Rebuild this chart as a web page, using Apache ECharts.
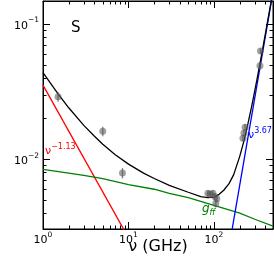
<!DOCTYPE html>
<html><head><meta charset="utf-8">
<script src="https://cdn.jsdelivr.net/npm/echarts@6/dist/echarts.min.js"></script>
<style>html,body{margin:0;padding:0;background:#fff}#c{width:274px;height:259px}</style>
</head><body><div id="c"></div>
<script>
// Observed flux densities (Jy) with 1-sigma errors
const freqObs = [1.5, 5, 8.5, 85, 90, 97, 102, 105, 108, 218, 224, 231, 345, 350];
const fluxObs = [0.029, 0.0161, 0.0079, 0.0056, 0.0055, 0.0056, 0.0053, 0.0047, 0.0051, 0.0143, 0.0156, 0.0172, 0.049, 0.063];
const fluxErr = [0.0024, 0.0013, 0.0007, 0.0003, 0.0003, 0.0003, 0.0003, 0.0003, 0.0003, 0.0008, 0.0009, 0.001, 0.003, 0.003];

// Total model
const modelFreq = [1, 1.5, 2, 3, 4, 5, 7, 10, 15, 20, 30, 50, 70, 85, 100, 115, 130, 150, 170, 200, 225, 250, 275, 300, 325, 350, 375, 400, 425, 450, 490];
const modelFlux = [0.0437, 0.0304, 0.0240, 0.0178, 0.0148, 0.0129, 0.0108, 0.0092, 0.0079, 0.0072, 0.0064, 0.0057, 0.0053, 0.0052, 0.00525, 0.0055, 0.0059, 0.0066, 0.0077, 0.0105, 0.0138, 0.0184, 0.0244, 0.0321, 0.0417, 0.0535, 0.068, 0.0852, 0.1056, 0.129, 0.175];

// Synchrotron component (nu^-1.13)
const syncFreq = [1, 10];
const syncFlux = [0.0353, 0.00262];

// Dust component (nu^3.67)
const dustFreq = [150, 490];
const dustFlux = [0.00224, 0.172];

// Free-free component
const ffFreq = [1, 2, 3, 5, 10, 20, 30, 50, 100, 200, 300, 490];
const ffFlux = [0.0084, 0.0079, 0.0076, 0.0072, 0.0065, 0.0060, 0.0056, 0.0052, 0.00456, 0.0040, 0.0036, 0.0032];

// Axis ranges and ticks
const xMin = 1, xMax = 490;
const yMin = 0.00305, yMax = 0.1477;
const xMajor = [1, 10, 100];
const yMajor = [0.01, 0.1];
const xMinor = [2,3,4,5,6,7,8,9,20,30,40,50,60,70,80,90,200,300,400];
const yMinor = [0.004,0.005,0.006,0.007,0.008,0.009,0.02,0.03,0.04,0.05,0.06,0.07,0.08,0.09];

(function () {
const FONT = 'DejaVu Sans';
const zip = (a, b) => a.map((v, i) => [v, b[i]]);

function powLabel(v) {
  const l = Math.log10(v);
  const r = Math.round(l);
  if (Math.abs(l - r) > 1e-6) return '';
  const e = r < 0 ? '\u2212' + (-r) : '' + r;
  return '{b|10}{s|' + e + '}';
}
const richLab = {
  b: {fontFamily: FONT, fontSize: 11, color: '#000', lineHeight: 15, verticalAlign: 'bottom'},
  s: {fontFamily: FONT, fontSize: 7.5, color: '#000', lineHeight: 15, verticalAlign: 'top'}
};

// tick items: [x, y, side(0 bottom,1 top,2 left,3 right), length]
const tickData = [];
xMinor.forEach(v => { tickData.push([v, yMin, 0, 3.5]); tickData.push([v, yMax, 1, 3.5]); });
yMinor.forEach(v => { tickData.push([xMin, v, 2, 3.5]); tickData.push([xMax, v, 3, 3.5]); });

const tickStyle = {show: true, inside: true, length: 7, lineStyle: {color: '#000', width: 1}};
const chart = echarts.init(document.getElementById('c'), null, {renderer: 'canvas'});
const option = {
  animation: false,
  backgroundColor: '#fff',
  grid: {left: 43, right: 1, top: 1, bottom: 30, outerBoundsMode: 'none', containLabel: false,
         show: true, borderColor: '#000', borderWidth: 1, backgroundColor: 'transparent'},
  xAxis: [{
    type: 'log', min: xMin, max: xMax, logBase: 10, position: 'bottom',
    axisLine: {show: true, lineStyle: {color: '#000', width: 1}},
    axisTick: tickStyle, splitLine: {show: false},
    axisLabel: {formatter: powLabel, rich: richLab, margin: 2, showMinLabel: true, showMaxLabel: false},
    name: '\u03bd (GHz)', nameLocation: 'middle', nameGap: 10, nameMoveOverlap: false,
    nameTextStyle: {fontFamily: FONT, fontSize: 16, color: '#000', verticalAlign: 'top'}
  }, {
    type: 'log', min: xMin, max: xMax, logBase: 10, position: 'top',
    axisLine: {show: true, lineStyle: {color: '#000', width: 1}},
    axisTick: tickStyle, splitLine: {show: false}, axisLabel: {show: false}
  }],
  yAxis: [{
    type: 'log', min: yMin, max: yMax, logBase: 10, position: 'left',
    axisLine: {show: true, lineStyle: {color: '#000', width: 1}},
    axisTick: tickStyle, splitLine: {show: false},
    axisLabel: {formatter: powLabel, rich: richLab, margin: 4, showMinLabel: false, showMaxLabel: false}
  }, {
    type: 'log', min: yMin, max: yMax, logBase: 10, position: 'right',
    axisLine: {show: true, lineStyle: {color: '#000', width: 1}},
    axisTick: tickStyle, splitLine: {show: false}, axisLabel: {show: false}
  }],
  series: [
    {type: 'line', data: zip(syncFreq, syncFlux), showSymbol: false, symbol: 'none', clip: true,
     lineStyle: {color: '#ff0000', width: 1.3}, z: 3},
    {type: 'line', data: zip(ffFreq, ffFlux), showSymbol: false, symbol: 'none', clip: true,
     lineStyle: {color: '#008000', width: 1.3}, z: 3},
    {type: 'line', data: zip(dustFreq, dustFlux), showSymbol: false, symbol: 'none', clip: true,
     lineStyle: {color: '#0000ff', width: 1.3}, z: 3},
    {type: 'line', data: zip(modelFreq, modelFlux), showSymbol: false, symbol: 'none', clip: true,
     lineStyle: {color: '#000', width: 1.3}, z: 4},
    {type: 'custom', clip: true, z: 5,
     data: freqObs.map((f, i) => [f, fluxObs[i], fluxErr[i]]),
     renderItem: function (params, api) {
       const x = api.value(0), y = api.value(1), e = api.value(2);
       const p1 = api.coord([x, y - e]), p2 = api.coord([x, y + e]);
       return {type: 'line', shape: {x1: p1[0], y1: p1[1], x2: p2[0], y2: p2[1]},
               style: {stroke: 'rgba(90,90,90,0.75)', lineWidth: 1.3}};
     }},
    {type: 'scatter', data: zip(freqObs, fluxObs), symbolSize: 7, clip: true, z: 6,
     itemStyle: {color: 'rgba(85,85,85,0.7)'}},
    {type: 'custom', clip: false, z: 7,
     data: tickData,
     renderItem: function (params, api) {
       const p = api.coord([api.value(0), api.value(1)]);
       const side = api.value(2), len = api.value(3);
       let x1 = Math.round(p[0]) + 0.5, y1 = Math.round(p[1]) + 0.5, x2 = x1, y2 = y1;
       if (side === 0) { y1 = p[1]; y2 = p[1] - len; }
       else if (side === 1) { y1 = p[1]; y2 = p[1] + len; }
       else if (side === 2) { x1 = p[0]; x2 = p[0] + len; }
       else { x1 = p[0]; x2 = p[0] - len; }
       return {type: 'line', shape: {x1: x1, y1: y1, x2: x2, y2: y2},
               style: {stroke: 'rgba(0,0,0,1)', lineWidth: 1}};
     }}
  ],
  graphic: [
    {type: 'text', z: 100, left: 71, top: 21, style: {text: 'S', fontFamily: FONT, fontSize: 15, fill: '#000'}},
    {type: 'text', z: 100, left: 45, top: 143, style: {
      text: '{a|\u03bd}{b|\u22121.13}', fill: '#ff0000',
      rich: {a: {fontFamily: FONT, fontSize: 11, fill: '#ff0000', lineHeight: 14, verticalAlign: 'bottom'},
             b: {fontFamily: FONT, fontSize: 8, fill: '#ff0000', lineHeight: 14, verticalAlign: 'top'}}}},
    {type: 'text', z: 100, left: 248, top: 127, style: {
      text: '{a|\u03bd}{b|3.67}', fill: '#0000ff',
      rich: {a: {fontFamily: FONT, fontSize: 11, fill: '#0000ff', lineHeight: 14, verticalAlign: 'bottom'},
             b: {fontFamily: FONT, fontSize: 8, fill: '#0000ff', lineHeight: 14, verticalAlign: 'top'}}}},
    {type: 'text', z: 100, left: 202, top: 203, style: {
      text: '{a|g}{b|ff}', fill: '#008000',
      rich: {a: {fontFamily: FONT, fontSize: 12, fontStyle: 'italic', fill: '#008000', lineHeight: 14, verticalAlign: 'top'},
             b: {fontFamily: FONT, fontSize: 8, fontStyle: 'italic', fill: '#008000', lineHeight: 14, verticalAlign: 'bottom'}}}}
  ]
};
chart.setOption(option);
})();
</script></body></html>
